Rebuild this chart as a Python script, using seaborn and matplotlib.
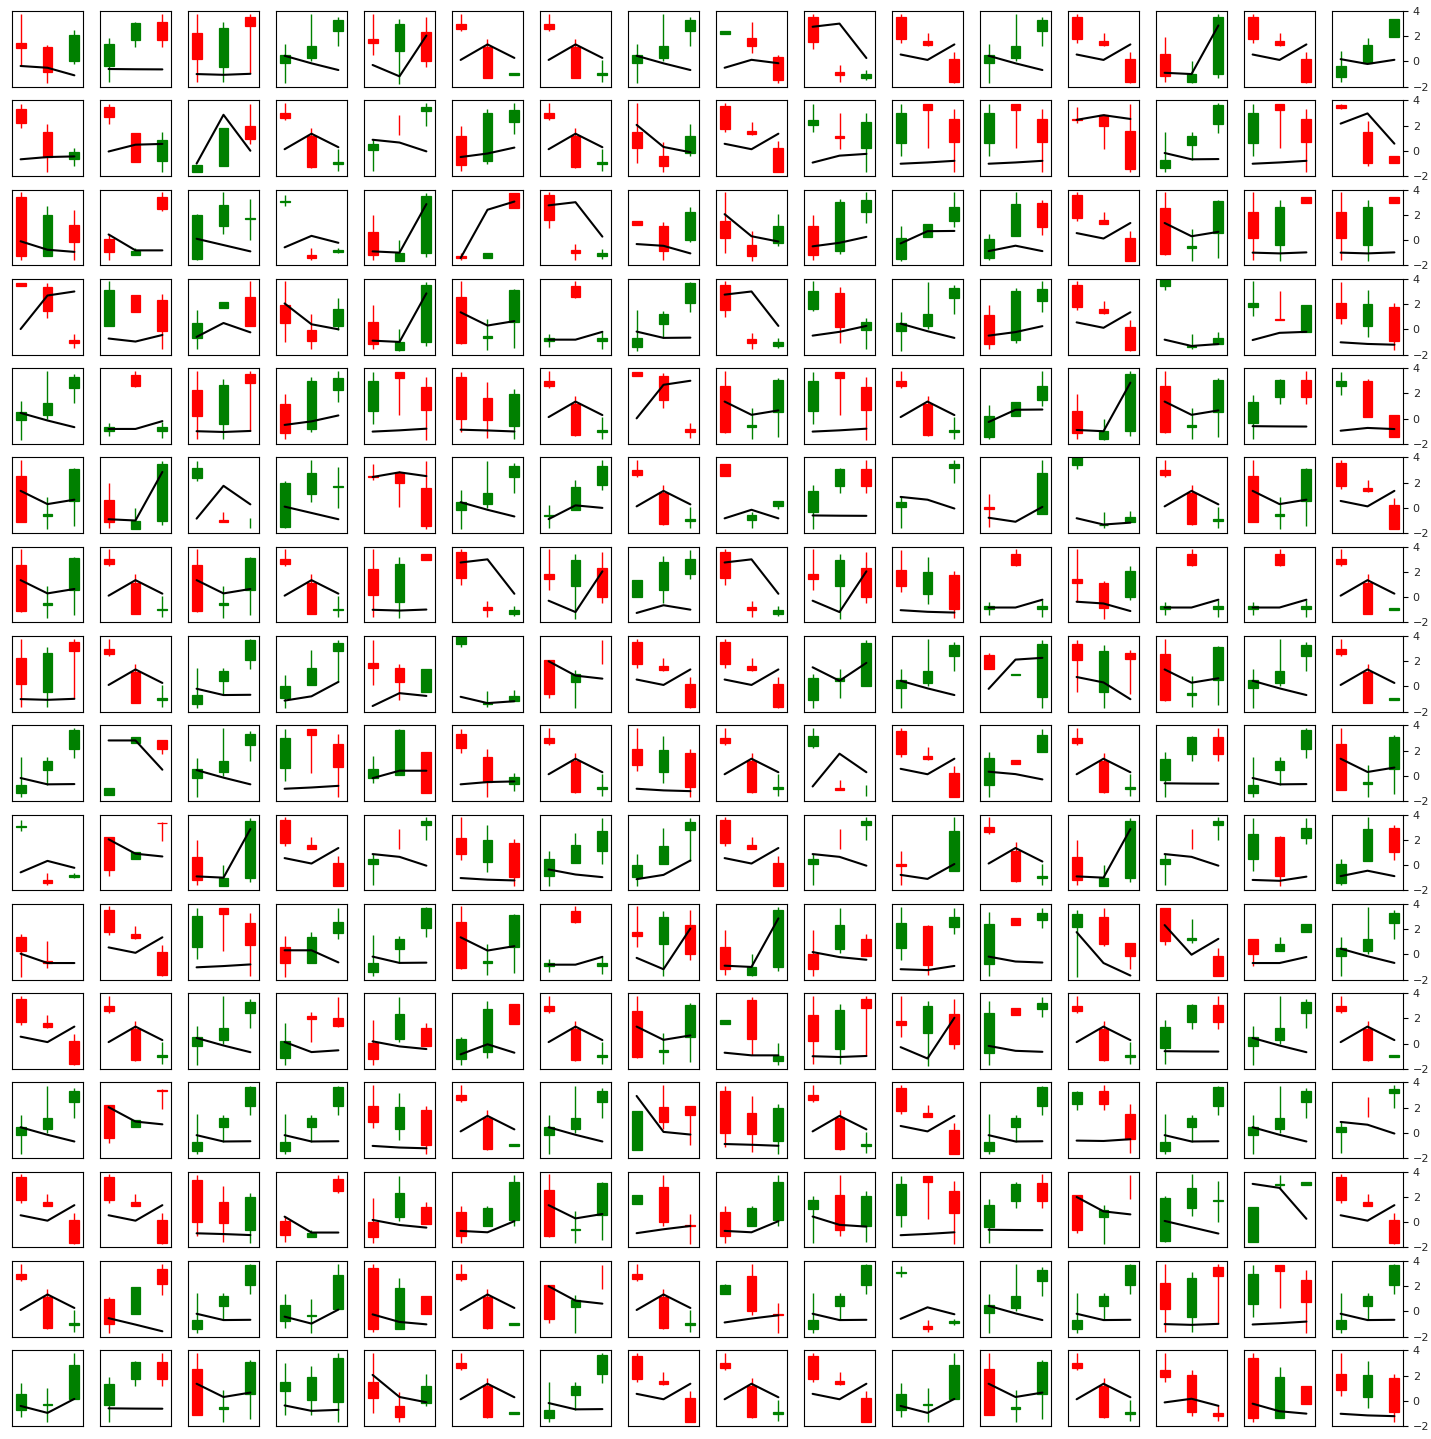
import numpy as np
import matplotlib
matplotlib.use("Agg")
import matplotlib.pyplot as plt
import seaborn as sns

N = float("nan")

# ---- panel patterns: candle tuples are (open, close, high, low) ----
PATTERN_IDS = [
    "A", "A0", "B", "C", "D", "E", "F", "G", "Gn", "H", "I", "J", "K", "L", "M", "Mb",
    "N", "O", "P", "Q", "R", "S", "T", "U", "V", "W", "X", "Y", "Z", "AA", "AB", "AC",
    "AD", "AE", "AF", "AG", "AH", "AI", "AJ", "AK", "AL", "AM",
    "u0_8", "u0_15", "u1_1", "u1_2", "u1_9", "u1_15", "u2_0", "u2_5", "u2_7", "u3_1",
    "u3_2", "u3_3", "u3_9", "u3_14", "u4_15", "u5_6", "u5_8", "u6_7", "u7_4", "u7_9",
    "u7_11", "u7_12", "u8_1", "u8_4", "u8_11", "u9_6", "u10_0", "u10_3", "u10_12",
    "u10_13", "u10_14", "u11_3", "u11_5", "u11_8", "u12_7", "u12_12", "u13_9",
    "u13_14", "u14_1", "u15_3", "u15_13",
]

LEFT = [
    (3.0, 2.6, 3.8, 2.45), (3.0, 2.6, 3.8, 2.45), (3.55, 1.75, 3.8, 1.5),
    (2.55, -1.1, 3.8, -1.15), (0.6, -1.15, 1.95, -1.6), (-0.15, 0.5, 1.4, -1.7),
    (-1.4, -0.7, 1.5, -1.7), (2.25, 0.2, 3.8, -1.6), (2.25, 0.2, 3.8, -1.6),
    (1.45, 1.1, 3.8, -0.4), (-0.35, 1.35, 1.85, -1.65), (-0.95, -0.7, -0.35, -1.4),
    (-1.5, 1.95, 2.1, -1.6), (1.8, 1.45, 3.8, 0.55), (0.05, 0.5, 0.9, -1.6),
    (0.05, 0.5, 0.9, -1.6),
    (1.5, 0.2, 3.8, -1.0), (3.55, 1.55, 3.8, 0.95), (0.6, 3.0, 3.7, -0.4),
    (3.7, 3.4, 3.7, 3.4), (2.55, 2.45, 3.5, 2.2), (1.15, -1.15, 1.95, -1.6),
    (-1.45, 0.05, 0.45, -1.6), (-1.48, 0.18, 1.08, -1.65), (3.4, 4.2, 4.2, 3.1),
    (3.05, 3.1, 3.6, 2.7), (2.2, -0.4, 2.2, -0.83), (3.28, 2.18, 3.73, 1.77),
    (2.12, 0.87, 3.78, 0.4), (-0.95, 0.0, 0.88, -1.68), (2.38, 3.13, 3.75, 2.17),
    (0.05, -0.1, 1.1, -1.55),
    (0.5, 2.48, 3.75, -0.45), (3.32, 0.0, 3.73, -1.1), (0.1, -0.98, 0.4, -1.55),
    (-0.76, 0.52, 1.41, -1.31), (0.03, -1.2, 1.9, -1.68), (2.12, -0.6, 2.12, -0.88),
    (-0.76, 2.39, 3.36, -1.71), (0.82, -1.09, 1.3, -1.68), (1.42, 2.14, 2.14, 1.42),
    (3.41, -1.35, 3.77, -1.65),
    (2.15, 2.45, 2.45, 2.15), (-1.25, -0.35, 0.8, -1.65), (3.5, 2.7, 3.7, 2.15),
    (-1.7, -1.15, -1.15, -1.7), (2.05, 2.4, 3.7, 1.5), (3.6, 3.42, 3.7, 3.3),
    (3.4, -1.3, 3.8, -1.6), (-1.28, -1.42, -1.05, -1.6), (1.5, 1.2, 1.5, 1.2),
    (0.3, 3.15, 3.8, 0.3),
    (-0.7, 0.5, 1.55, -1.6), (1.9, 0.5, 3.85, -1.0), (1.65, 3.05, 3.86, 1.44),
    (1.75, 2.05, 3.8, 1.08), (2.6, 3.0, 3.67, 1.9), (-0.65, -0.57, 0.2, -1.56),
    (3.45, 2.55, 3.45, 2.55), (0.0, 1.4, 1.4, 0.0), (1.9, 1.45, 3.68, 0.08),
    (-1.1, 0.7, 0.99, -1.73),
    (2.5, 1.4, 2.67, 1.4), (3.35, 2.13, 3.68, -0.45), (-1.55, -1.0, -1.0, -1.55),
    (-0.2, 0.55, 1.6, -0.61), (-0.72, 1.41, 1.87, -1.65), (-0.85, 0.45, 1.12, -1.63),
    (1.4, 0.3, 1.63, -1.76), (0.55, -0.7, 1.49, -1.76), (2.19, 3.17, 3.49, -1.76),
    (3.71, 1.09, 3.71, 0.77), (1.25, 0.05, 1.25, -0.96), (-1.17, 0.21, 1.6, -1.71),
    (-1.25, 0.35, 0.56, -1.71), (1.55, 1.89, 1.89, 1.55), (-1.33, 1.73, 1.73, -1.33),
    (2.27, 3.25, 3.3, 1.81), (1.04, 1.73, 2.05, -1.68),
    (-1.6, 1.17, 1.17, -1.6), (0.96, -0.99, 1.15, -1.71), (0.75, 1.47, 3.01, -1.12),
    (2.43, 1.89, 3.81, 1.47),
]

MID = [
    (1.15, -1.3, 1.8, -1.35), (1.15, -1.3, 1.8, -1.35), (1.6, 1.3, 2.25, 1.25),
    (-0.65, -0.5, 0.85, -1.65), (-1.65, -1.0, 0.0, -1.7), (0.3, 1.2, 3.75, 0.0),
    (0.45, 1.2, 1.45, -0.7), (-0.42, 2.65, 3.15, -1.65), (-0.42, 2.65, 3.15, -1.65),
    (1.15, -0.85, 1.3, -1.7), (1.7, 3.05, 3.15, 1.15), (3.45, 2.55, 3.8, 2.5),
    (1.1, 2.75, 3.8, 0.5), (0.85, 2.95, 3.4, -1.75), (2.06, 2.05, 2.85, 1.25),
    (N, N, N, N),
    (-0.4, -1.25, 0.7, -1.65), (-0.8, -1.05, -0.3, -1.6), (3.7, 3.2, 3.7, 0.25),
    (3.35, 1.45, 3.65, 0.88), (2.8, 2.0, 2.9, 0.1), (-0.85, 3.0, 3.28, -1.07),
    (0.3, 2.85, 3.8, 0.3), (0.22, 1.3, 1.3, 0.22), (-1.38, -1.32, -0.35, -1.6),
    (-1.15, -1.42, -0.65, -1.6), (0.45, 1.0, 1.0, 0.45), (1.48, -0.48, 2.12, -1.68),
    (0.28, 2.02, 3.15, -0.57), (0.1, 1.5, 2.93, 0.1), (-0.95, -1.1, -0.3, -1.1),
    (N, N, N, N),
    (2.24, -0.84, 2.3, -1.63), (1.6, -0.08, 2.9, -1.55), (-1.18, -0.84, -0.6, -1.18),
    (-0.32, -0.28, 0.98, -1.68), (0.4, 2.35, 3.7, 0.1), (0.38, 0.95, 1.33, -1.71),
    (2.86, 2.3, 2.86, 2.3), (-0.29, 1.12, 1.25, -0.29), (2.8, 0.0, 3.73, -0.3),
    (-1.35, 1.9, 2.67, -1.35),
    (1.85, 1.25, 3.13, 0.67), (-0.15, 1.3, 1.85, -0.15), (1.4, -0.9, 1.4, -0.9),
    (-1.2, 1.8, 1.8, -1.2), (1.2, 1.0, 3.0, 0.16), (1.5, -1.0, 2.34, -1.2),
    (-1.3, 1.95, 2.72, -1.3), (-1.45, -1.05, -1.05, -1.45), (1.15, -0.85, 1.45, -1.6),
    (2.7, 1.4, 2.7, 1.4),
    (1.7, 2.2, 2.2, 1.7), (-0.05, -0.95, 1.2, -1.6), (2.9, 0.2, 3.32, -1.05),
    (0.85, 0.75, 3.05, 0.75), (3.0, 0.1, 3.13, 0.1), (-0.2, 1.65, 2.25, -0.2),
    (-0.95, -0.6, -0.34, -1.56), (0.55, 2.8, 3.28, -0.45), (1.5, 0.35, 1.81, -1.07),
    (0.45, 0.65, 1.39, -0.93),
    (0.88, 0.98, 0.98, 0.88), (-0.4, 2.8, 3.28, -1.73), (2.6, 3.05, 3.05, 2.6),
    (0.05, 3.6, 3.73, 0.05), (1.28, 0.93, 1.28, 0.93), (0.2, 1.6, 2.51, 0.2),
    (-0.5, -0.7, 1.09, -1.09), (-0.7, 1.4, 1.76, -0.7), (2.96, 0.83, 3.71, 0.69),
    (1.12, 1.31, 2.83, 0.91), (0.24, 0.85, 1.39, 0.24), (2.21, 1.95, 2.48, 0.13),
    (-0.67, 2.75, 3.41, -1.17), (3.49, 0.35, 3.68, -0.93), (2.05, 0.85, 3.81, 0.32),
    (3.33, 2.27, 3.81, 1.81), (2.13, -0.61, 3.73, -1.09),
    (2.96, 3.02, 3.73, 2.7), (-0.19, 1.95, 1.95, -0.19), (0.08, 1.87, 2.75, -1.12),
    (2.03, -0.91, 2.48, -1.2),
]

RIGHT = [
    (-1.05, -0.9, 0.1, -1.6), (-1.05, -0.88, -0.88, -1.05), (0.2, -1.65, 0.75, -1.7),
    (0.55, 3.1, 3.2, -1.45), (-1.0, 3.5, 3.75, -1.35), (2.45, 3.3, 3.55, 1.2),
    (2.1, 3.65, 3.75, 1.4), (3.55, 2.85, 3.75, -0.95), (3.45, 2.95, 3.45, 2.95),
    (0.0, 2.1, 2.5, -0.2), (3.1, 1.7, 3.8, 1.15), (-0.95, -0.7, -0.25, -1.55),
    (1.65, 1.75, 3.25, 0.0), (2.35, 0.0, 3.55, -0.45), (3.15, 3.5, 3.8, 2.0),
    (3.15, 3.5, 3.8, 2.0),
    (-0.2, 1.15, 2.1, -0.45), (-1.3, -1.0, -0.7, -1.5), (2.5, 0.72, 3.3, -1.7),
    (-0.85, -1.1, -0.35, -1.5), (1.6, -1.45, 3.7, -1.7), (2.25, 3.2, 3.8, 1.35),
    (2.92, 1.05, 3.2, 0.4), (1.5, 2.62, 3.78, 1.0), (-1.15, -0.72, -0.25, -1.15),
    (-0.95, -0.78, -0.6, -1.05), (3.37, 3.32, 3.45, 1.9), (-0.68, -0.08, 0.2, -1.2),
    (1.78, -0.92, 2.1, -1.68), (2.8, 3.45, 3.7, 0.36), (-1.2, -1.19, -0.77, -1.62),
    (-0.5, 2.73, 3.8, -0.5),
    (2.15, 2.95, 3.7, 1.65), (-0.62, 1.98, 2.33, -1.65), (3.45, 2.45, 3.78, 2.3),
    (0.16, 2.87, 3.8, 0.16), (1.2, -0.15, 1.6, -0.15), (2.46, 2.45, 3.72, 1.82),
    (2.72, 3.25, 3.7, 2.1), (0.19, 3.18, 3.73, -0.29), (-0.22, -0.3, 0.67, -1.7),
    (1.19, -0.23, 1.19, -0.23),
    (0.35, -1.5, 0.54, -1.73), (1.95, 3.35, 3.35, 1.95), (-0.8, 0.85, 1.46, -1.7),
    (2.0, 0.95, 3.7, 0.56), (0.2, 2.3, 3.0, -1.7), (-0.45, -0.95, -0.45, -0.95),
    (1.2, -0.15, 2.4, -1.6), (3.75, 2.55, 3.75, 2.55), (0.0, 2.25, 2.58, -0.15),
    (2.35, -0.1, 2.8, -1.6),
    (2.55, 0.25, 3.8, 0.25), (0.25, 1.6, 2.45, -0.05), (-0.05, 0.6, 0.87, -1.6),
    (-0.25, 1.95, 1.95, -0.25), (0.25, -1.45, 0.25, -1.45), (1.85, 3.3, 3.8, 1.4),
    (0.15, 0.55, 0.55, -0.06), (1.85, 3.0, 3.76, 1.41), (-0.4, 1.35, 1.35, -0.4),
    (0.0, 3.47, 3.68, 0.0),
    (-0.8, 3.33, 3.68, -1.73), (2.67, 2.19, 2.88, -0.61), (2.8, 2.15, 2.8, 1.73),
    (1.9, -1.35, 1.9, -1.35), (1.87, 3.2, 3.73, 1.87), (1.1, 2.72, 3.73, 0.11),
    (N, N, N, N), (1.7, 2.55, 3.71, 1.23), (0.91, -0.11, 0.91, -1.17),
    (-0.16, -1.68, 0.51, -1.68), (1.79, 2.43, 2.43, 1.79), (2.0, 1.41, 3.68, 1.28),
    (3.15, 1.55, 3.15, 1.55), (-1.39, -0.99, 0.08, -1.71), (2.13, 1.39, 2.13, -0.93),
    (1.51, -0.5, 2.27, -1.63), (-0.27, 2.11, 2.45, -1.55),
    (2.93, 3.17, 3.17, 2.93), (3.36, 2.21, 3.73, 1.28), (-0.11, 3.36, 3.81, -1.65),
    (-0.93, -1.2, -0.32, -1.6),
]

LINE_Y = [
    [0.12, 1.35, 0.28], [0.12, 1.35, 0.28], [0.55, 0.12, 1.35], [1.35, 0.3, 0.65],
    [-0.9, -1.0, 2.85], [0.45, -0.15, -0.68], [-0.18, -0.68, -0.66], [-1.0, -1.06, -0.98],
    [-1.0, -1.06, -0.98], [-0.36, -0.5, -1.1], [-0.6, -0.62, -0.63], [-0.82, -0.82, -0.2],
    [0.1, -0.4, -0.9], [-0.28, -1.18, 2.05], [0.87, 0.65, -0.05], [0.87, 0.65, -0.05],
    [2.05, 0.3, -0.12], [2.75, 3.0, 0.27], [-1.03, -0.93, -0.8], [0.02, 2.68, 3.0],
    [2.45, 2.82, 2.52], [-0.5, -0.22, 0.25], [-0.88, -0.45, -0.88], [-0.27, 0.7, 0.72],
    [-0.82, -1.32, -1.17], [-0.58, 0.33, -0.22], [2.04, 0.9, 0.68], [-0.68, -0.5, -0.45],
    [-1.03, -1.16, -1.22], [-1.12, -0.78, 0.36], [-0.85, 1.75, 0.28], [-0.78, -1.1, 0.08],
    [-1.18, -1.25, -0.92], [-0.88, -0.94, -1.02], [0.44, -0.82, -0.82], [-0.41, -0.96, 0.15],
    [0.18, -0.22, -0.43], [2.0, 0.86, 0.62], [-0.18, -0.57, -0.65], [-0.69, -0.8, 0.08],
    [-0.87, -0.56, -0.3], [-0.23, -0.83, -1.02],
    [-0.5, 0.13, -0.14], [0.18, -0.2, 0.13], [-0.06, 0.48, 0.54], [-1.02, 2.85, 0.0],
    [-0.94, -0.39, -0.25], [2.15, 2.96, 0.56], [-0.1, -0.77, -0.94], [-1.43, 2.4, 3.05],
    [-0.32, -0.46, -1.06], [-0.73, -0.97, -0.45], [-0.6, 0.5, -0.24], [2.05, 0.4, 0.0],
    [-0.5, -0.2, 0.27], [-0.85, -0.28, -0.2], [-0.96, -0.74, -0.83], [-0.89, 0.2, 0.0],
    [-0.83, -0.15, -0.83], [-1.25, -0.64, -0.99], [-1.55, -0.53, -0.75], [1.52, 0.45, 1.87],
    [-0.19, 2.13, 2.27], [0.75, 0.32, -1.01], [2.8, 2.8, 0.48], [-0.19, 0.4, 0.4],
    [0.32, 0.13, -0.29], [-0.35, -0.75, -0.96], [0.05, -0.69, -0.69], [0.32, 0.32, -0.64],
    [1.76, -0.69, -1.68], [2.32, -0.03, 1.23], [-0.69, -0.69, -0.21], [0.13, -0.67, -0.53],
    [-0.85, -0.05, -0.72], [-0.72, -0.93, -0.93], [2.93, 0.08, -0.13], [-0.61, -0.64, -0.5],
    [0.45, -0.21, -0.35], [3.04, 2.72, 0.27], [-0.53, -1.04, -1.57], [-0.37, -0.8, -0.72],
    [-0.13, 0.16, -0.4],
]

# which pattern sits in each of the 16 x 16 panels
LAYOUT = [
    "H I G E L A0 A E u0_8 O B E B D B u0_15",
    "Y u1_1 u1_2 A M S A N B u1_9 P P R F P u1_15",
    "u2_0 AF K W D u2_5 O u2_7 N S U T B C Gn Gn",
    "Q u3_1 u3_2 u3_3 D C J F O u3_9 E S B V u3_14 Z",
    "E J G S P AE A Q C P A U D C I u4_15",
    "C D AB K R E u5_6 A u5_8 I Mb AC V A C B",
    "C A C A Gn O L u6_7 O L Z J H J J A0",
    "G A F AA u7_4 V AI B B u7_9 E u7_11 u7_12 C E A0",
    "F u8_1 E P u8_4 Y A Z A AB B u8_11 A I F C",
    "W X D B M Z u9_6 AA B M AC A D M AD T",
    "u10_0 B P u10_3 F C J L D AH AD AJ u10_12 u10_13 u10_14 E",
    "B A E u11_3 AH u11_5 A C u11_8 G L AJ A I E A0",
    "E X F F Z A0 E u12_7 AE A B F u12_12 F E M",
    "B B AE AF AH AK C AL AK u13_9 P I AI K u13_14 B",
    "A u14_1 F AG AM A0 AI A AL F W E F G P F",
    "AG I C u15_3 N A0 F B A B AG C A u15_13 AM Z",
]

X_POS = [0, 1, 2]
Y_TICKS = [-2, 0, 2, 4]
UP_COLOR = "green"
DOWN_COLOR = "red"

sns.set_style("white")
plt.rcParams["axes.edgecolor"] = "black"
plt.rcParams["axes.linewidth"] = 0.8
plt.rcParams["font.family"] = ["DejaVu Sans"]

fig, axes = plt.subplots(16, 16, figsize=(14.31, 14.39), dpi=100)
fig.subplots_adjust(left=12 / 1431, right=1403 / 1431, top=1 - 11 / 1439,
                    bottom=1 - 1426 / 1439, wspace=0.24, hspace=0.18)

lookup = {p: i for i, p in enumerate(PATTERN_IDS)}
for r, row in enumerate(LAYOUT):
    for c, pid in enumerate(row.split()):
        ax = axes[r, c]
        i = lookup[pid]
        for x, cand in zip(X_POS, (LEFT[i], MID[i], RIGHT[i])):
            o, cl, h, l = cand
            if np.isnan(o):
                continue
            col = UP_COLOR if cl > o else DOWN_COLOR
            ax.vlines(x, l, h, color=col, linewidth=1.0, zorder=2)
            if abs(cl - o) >= 0.02:
                ax.bar(x, cl - o, bottom=o, width=0.37, color=col, edgecolor=col,
                       linewidth=0.9, zorder=2)
        sns.lineplot(x=X_POS, y=LINE_Y[i], ax=ax, color="black", linewidth=1.5,
                     zorder=3, legend=False)
        ax.set_xlim(-0.32, 2.32)
        ax.set_ylim(-2, 4)
        ax.set_xticks([])
        ax.set_xlabel("")
        ax.set_ylabel("")
        for s in ax.spines.values():
            s.set_visible(True)
            s.set_color("black")
            s.set_linewidth(0.8)
        if c == 15:
            ax.yaxis.tick_right()
            ax.set_yticks(Y_TICKS)
            ax.tick_params(axis="y", labelsize=8, length=3.5, width=0.8,
                           direction="out", right=True, left=False, color="black")
        else:
            ax.set_yticks([])

fig.savefig("out.png", dpi=100, facecolor="white")
